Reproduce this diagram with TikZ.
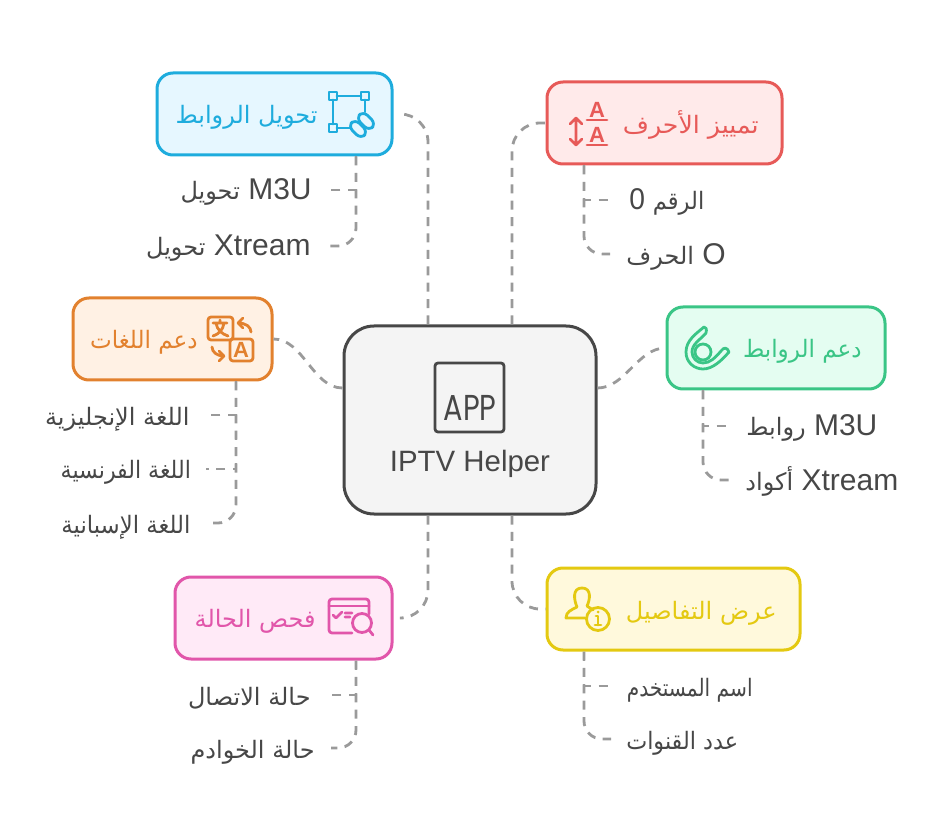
\documentclass[tikz,border=0pt]{standalone}
\usepackage{fontspec}
\setmainfont{Liberation Sans}
\newfontfamily\arabicfont[Script=Arabic]{DejaVu Sans}
\newfontfamily\appfont{Poppins}
\TeXXeTstate=1
\newcommand{\artxt}[1]{{\arabicfont\fontsize{12}{14}\selectfont\beginR #1\endR}}
\definecolor{inkgray}{HTML}{474747}
\definecolor{centerfill}{HTML}{F4F4F4}
\definecolor{linkgray}{HTML}{9A9A9A}
\definecolor{bluestroke}{HTML}{1EACDD}
\definecolor{bluefill}{HTML}{E6F7FF}
\definecolor{redstroke}{HTML}{E75A58}
\definecolor{redfill}{HTML}{FFEAEA}
\definecolor{greenstroke}{HTML}{3AC586}
\definecolor{greenfill}{HTML}{E4FDF1}
\definecolor{orangestroke}{HTML}{E2812E}
\definecolor{orangefill}{HTML}{FFF1E4}
\definecolor{pinkstroke}{HTML}{E156AA}
\definecolor{pinkfill}{HTML}{FFEAF7}
\definecolor{yellowstroke}{HTML}{E4C911}
\definecolor{yellowfill}{HTML}{FFF9DC}
\tikzset{
  topic/.style={draw=#1stroke, fill=#1fill, text=#1stroke, line width=1.5pt, rounded corners=8pt, minimum height=41pt, inner sep=0pt},
  topiclabel/.style={text=#1stroke, inner sep=0pt},
  leaf/.style={text=inkgray, inner xsep=8pt, inner ysep=0pt, text height=12pt, text depth=2pt, font=\fontsize{15}{17}\selectfont},
  link/.style={draw=linkgray, line width=1.4pt, dash pattern=on 4.5pt off 3.7pt},
  icon/.style={line width=1.4pt, line cap=round, line join=round}
}
\begin{document}
\begin{tikzpicture}[x=0.5pt, y=-0.5pt]
  \useasboundingbox (0,0) rectangle (939,840);
  % connectors first
  \node[draw=inkgray, fill=centerfill, line width=1.5pt, rounded corners=15pt, minimum width=126pt, minimum height=94pt] (center) at (470,420) {};
  \node[topic=blue, minimum width=117.5pt] (convert) at (274.5,114) {};
  \node[topic=red, minimum width=117.5pt] (chars) at (664.5,123) {};
  \node[topic=green, minimum width=109pt] (links) at (776,348) {};
  \node[topic=orange, minimum width=99.5pt] (langs) at (172.5,339) {};
  \node[topic=pink, minimum width=108.5pt] (status) at (283.5,618) {};
  \node[topic=yellow, minimum width=126.5pt] (details) at (673.5,609) {};

  \node[topiclabel=blue, anchor=east] (convertlabel) at (318,117) {\artxt{تحويل الروابط}};
  \node[topiclabel=red, anchor=east, xscale=1.05] (charslabel) at (759,125) {\artxt{تمييز الأحرف}};
  \node[topiclabel=green, anchor=east, xscale=0.96] (linkslabel) at (862,351) {\artxt{دعم الروابط}};
  \node[topiclabel=orange, anchor=east, xscale=0.96] (langslabel) at (198,342) {\artxt{دعم اللغات}};
  \node[topiclabel=pink, anchor=east] (statuslabel) at (316,621) {\artxt{فحص الحالة}};
  \node[topiclabel=yellow, anchor=east] (detailslabel) at (777,613) {\artxt{عرض التفاصيل}};

  \node[leaf, anchor=east] (convertm) at (328,190) {\artxt{تحويل} M3U};
  \node[leaf, anchor=east] (convertx) at (327,246) {\artxt{تحويل} Xtream};
  \node[leaf, anchor=west, xscale=0.94] (charsnum) at (614,200) {0 \artxt{الرقم}};
  \node[leaf, anchor=west] (charslet) at (610,254) {\artxt{الحرف} O};
  \node[leaf, anchor=west] (linksm) at (730,426) {\artxt{روابط} M3U};
  \node[leaf, anchor=west] (linksx) at (729,480) {\artxt{أكواد} Xtream};
  \node[leaf, anchor=east] (langen) at (206,415) {\artxt{اللغة الإنجليزية}};
  \node[leaf, anchor=east, xscale=0.92] (langfr) at (206,469) {\artxt{اللغة الفرنسية}};
  \node[leaf, anchor=east, xscale=0.95] (langes) at (206,523) {\artxt{اللغة الإسبانية}};
  \node[leaf, anchor=east] (statusconn) at (327,695) {\artxt{حالة الاتصال}};
  \node[leaf, anchor=east] (statussrv) at (331,748) {\artxt{حالة الخوادم}};
  \node[leaf, anchor=west, xscale=0.84] (detailsuser) at (613,686) {\artxt{اسم المستخدم}};
  \node[leaf, anchor=west, xscale=0.93] (detailschan) at (611,739) {\artxt{عدد القنوات}};

  \draw[link, rounded corners=14pt, shorten >=4pt] ([xshift=-21pt]center.north) |- (convert.east);
  \draw[link, rounded corners=14pt] ([xshift=21pt]center.north) |- (chars.west);
  \draw[link, rounded corners=14pt, shorten >=4pt] ([xshift=-21pt]center.south) |- (status.east);
  \draw[link, rounded corners=14pt] ([xshift=21pt]center.south) |- (details.west);
  \draw[link] ([yshift=16pt]center.east) to[out=0, in=180, looseness=0.9] (links.west);
  \draw[link] ([yshift=16pt]center.west) to[out=180, in=0, looseness=0.9] (langs.east);

  \draw[link] ([xshift=40.75pt]convert.south) |- (convertm.east);
  \draw[link, rounded corners=9pt] ([xshift=40.75pt]convert.south) |- (convertx.east);
  \draw[link] ([xshift=-40.25pt]chars.south) |- (charsnum.west);
  \draw[link, rounded corners=9pt] ([xshift=-40.25pt]chars.south) |- (charslet.west);
  \draw[link] ([xshift=-36.5pt]links.south) |- (linksm.west);
  \draw[link, rounded corners=9pt] ([xshift=-36.5pt]links.south) |- (linksx.west);
  \draw[link] ([xshift=31.75pt]langs.south) |- (langen.east);
  \draw[link] ([xshift=31.75pt]langs.south) |- (langfr.east);
  \draw[link, rounded corners=9pt] ([xshift=31.75pt]langs.south) |- (langes.east);
  \draw[link] ([xshift=36.25pt]status.south) |- (statusconn.east);
  \draw[link, rounded corners=9pt] ([xshift=36.25pt]status.south) |- (statussrv.east);
  \draw[link] ([xshift=-44.75pt]details.south) |- (detailsuser.west);
  \draw[link, rounded corners=9pt] ([xshift=-44.75pt]details.south) |- (detailschan.west);

  % center
  \draw[inkgray, line width=1.4pt, rounded corners=1.5pt] (435,363) rectangle (504,432);
  \node[text=inkgray, inner sep=0pt, font=\appfont\fontsize{18}{20}\selectfont, xscale=0.8] (apptext) at (470,408) {APP};
  \node[text=inkgray, inner sep=0pt, font=\fontsize{14.7}{18}\selectfont] (centerlabel) at (470,464) {IPTV Helper};

  % convert icon
  \begin{scope}[icon, draw=bluestroke]
    \draw (337,96) -- (361,96) (333,100) -- (333,124) (365,100) -- (365,112) (337,128) -- (350,128);
    \draw (329,92) rectangle (337,100) (361,92) rectangle (369,100) (329,124) rectangle (337,132);
    \draw[rotate around={-45:(366,121)}, rounded corners=3pt] (357,116) rectangle (375,126);
    \draw[rotate around={-45:(358,129)}, rounded corners=3pt] (349,124) rectangle (367,134);
  \end{scope}

  % chars icon
  \begin{scope}[icon, draw=redstroke]
    \draw (576,118) -- (576,145) (570,124) -- (576,118) -- (582,124) (570,139) -- (576,145) -- (582,139);
    \draw (587,120) -- (607,120) (587,145) -- (607,145);
  \end{scope}
  \node[text=redstroke, inner sep=0pt, font=\bfseries\fontsize{11}{12}\selectfont] (upperA) at (597,110) {A};
  \node[text=redstroke, inner sep=0pt, font=\bfseries\fontsize{11}{12}\selectfont] (lowerA) at (597,135) {A};

  % links icon
  \begin{scope}[icon, draw=greenstroke]
    \draw (704,327) .. controls (697,333) and (686,340) .. (686,352) .. controls (686,363) and (695,369) .. (703,369) .. controls (713,369) and (722,360) .. (729,352) .. controls (727,347) and (724,347) .. (721,351) .. controls (715,358) and (710,363) .. (703,363) .. controls (697,363) and (692,358) .. (692,352) .. controls (692,344) and (700,340) .. (706,333) .. controls (707,329) and (706,327) .. (704,327);
    \draw (703,352) circle (8);
  \end{scope}

  % langs icon
  \begin{scope}[icon, draw=orangestroke]
    \draw[rounded corners=1.5pt] (208,317) rectangle (233,340);
    \draw[rounded corners=1.5pt] (230,339) rectangle (253,361);
    \draw (220,320) -- (220,323) (213,323) -- (227,323) (224,323) .. controls (223,330) and (219,334) .. (213,336) (216,323) .. controls (217,330) and (222,334) .. (228,336);
    \draw (251,332) .. controls (251,327) and (246,323) .. (238,323) (243,318) -- (238,323) -- (243,328);
    \draw (212,347) .. controls (212,352) and (217,356) .. (224,356) (219,351) -- (224,356) -- (219,361);
  \end{scope}
  \node[text=orangestroke, inner sep=0pt, font=\bfseries\fontsize{11}{12}\selectfont] (langA) at (241,350) {A};

  % status icon
  \begin{scope}[icon, draw=pinkstroke]
    \draw[rounded corners=1.5pt] (352,633) -- (329,633) -- (329,599) -- (369,599) -- (369,614);
    \draw (329,606) -- (369,606);
    \draw (333,615) -- (336,618) -- (342,612) (345,613) -- (352,613) (345,617) -- (350,617);
    \draw (362,623) circle (9.5) (369,630) -- (373,635);
  \end{scope}

  % details icon
  \begin{scope}[icon, draw=yellowstroke]
    \draw (585,618) -- (566,618) .. controls (566,612) and (571,610) .. (577,607) .. controls (574,600) and (572,588) .. (582,588) .. controls (592,588) and (590,600) .. (587,606) -- (593,610);
    \draw (598,619) circle (11.5);
    \draw (596,616) -- (598,616) -- (598,625) (595,625) -- (601,625);
    \fill[yellowstroke] (598,612) circle (1.5);
  \end{scope}
\end{tikzpicture}
\end{document}
